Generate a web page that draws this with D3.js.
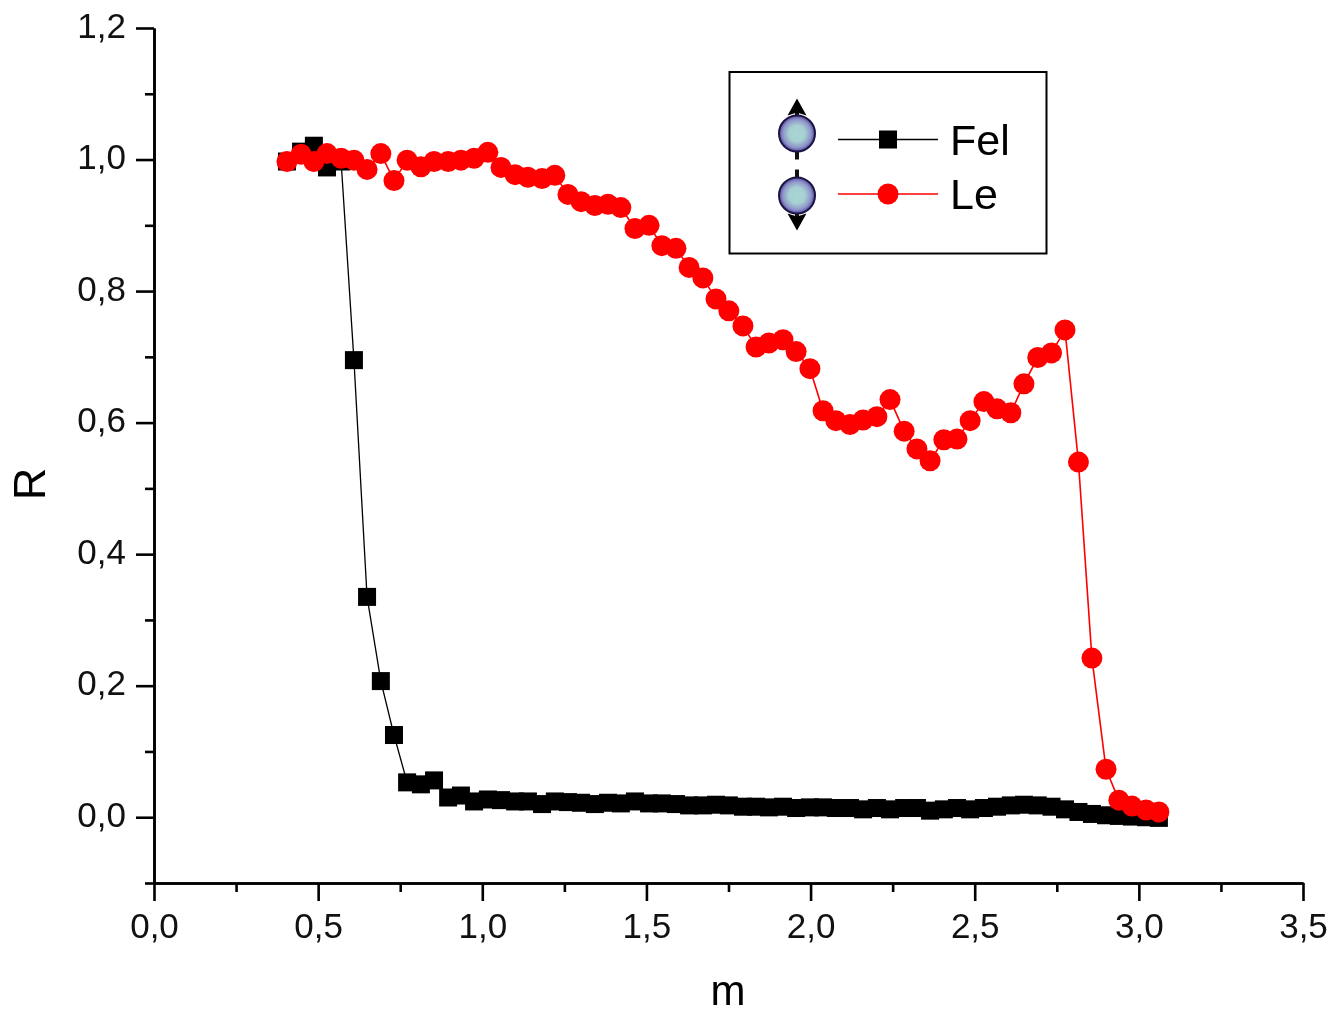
<!DOCTYPE html>
<html>
<head>
<meta charset="utf-8">
<script src="https://cdn.jsdelivr.net/npm/d3@7"></script>
<style>
    html, body { margin: 0; padding: 0; background: #fff; }
    svg { display: block; filter: blur(0.45px); }
    .tick text { font-family: "Liberation Sans", sans-serif; font-size: 35px; fill: #111; }
    .title { font-family: "Liberation Sans", sans-serif; font-size: 42px; fill: #000; }
</style>
</head>
<body>
<script>
// values
var m = [0.405, 0.448, 0.487, 0.527, 0.570, 0.609, 0.649, 0.691, 0.731, 0.771, 0.813,
    0.853, 0.896, 0.935, 0.975, 1.017, 1.057, 1.100, 1.139, 1.182, 1.221, 1.261,
    1.301, 1.343, 1.383, 1.422, 1.465, 1.508, 1.547, 1.590, 1.630, 1.672, 1.712,
    1.751, 1.794, 1.834, 1.873, 1.916, 1.956, 1.998, 2.038, 2.077, 2.120, 2.160,
    2.202, 2.242, 2.285, 2.324, 2.364, 2.406, 2.446, 2.486, 2.528, 2.568, 2.610,
    2.650, 2.692, 2.734, 2.775, 2.816, 2.857, 2.900, 2.939, 2.979, 3.022, 3.061];

var fel = [0.997, 1.012, 1.021, 0.988, 0.997, 0.695, 0.335, 0.207, 0.125, 0.053, 0.050,
    0.056, 0.030, 0.033, 0.024, 0.027, 0.026, 0.024, 0.024, 0.020, 0.024, 0.023,
    0.022, 0.020, 0.022, 0.021, 0.024, 0.021, 0.021, 0.020, 0.018, 0.018, 0.019,
    0.018, 0.016, 0.016, 0.015, 0.016, 0.014, 0.015, 0.015, 0.014, 0.014, 0.012,
    0.014, 0.012, 0.014, 0.014, 0.010, 0.012, 0.014, 0.012, 0.014, 0.016, 0.018,
    0.019, 0.018, 0.016, 0.012, 0.008, 0.005, 0.003, 0.002, 0.001, 0.000, -0.001];

var le = [0.997, 1.008, 0.997, 1.009, 1.002, 0.999, 0.985, 1.009, 0.968, 0.999, 0.989,
    0.997, 0.997, 0.999, 1.002, 1.011, 0.988, 0.977, 0.973, 0.971, 0.976, 0.947,
    0.936, 0.930, 0.932, 0.927, 0.895, 0.900, 0.869, 0.865, 0.836, 0.820, 0.788,
    0.770, 0.747, 0.715, 0.721, 0.726, 0.708, 0.682, 0.618, 0.603, 0.597, 0.604,
    0.609, 0.635, 0.587, 0.560, 0.542, 0.574, 0.575, 0.603, 0.632, 0.621, 0.615,
    0.659, 0.699, 0.706, 0.741, 0.540, 0.242, 0.073, 0.026, 0.017, 0.011, 0.008];

var xMajor = [0, 0.5, 1, 1.5, 2, 2.5, 3, 3.5];
var xMinor = [0.25, 0.75, 1.25, 1.75, 2.25, 2.75, 3.25];
var yMajor = [0, 0.2, 0.4, 0.6, 0.8, 1, 1.2];
var yMinor = [-0.1, 0.1, 0.3, 0.5, 0.7, 0.9, 1.1];

var width = 1333, height = 1014;
var margin = {left: 154, right: 30, top: 28, bottom: 131};
var comma = function (d) { return d.toFixed(1).replace(".", ","); };

var svg = d3.select("body").append("svg")
    .attr("width", width)
    .attr("height", height);

var x = d3.scaleLinear().domain([0, 3.5]).range([margin.left, width - margin.right]);
var y = d3.scaleLinear().domain([-0.1, 1.2]).range([height - margin.bottom, margin.top]);

// axes, minor ticks first and then the labelled ones
var styleAxis = function (sel) {
    sel.selectAll("path, line").style("stroke", "#000").style("stroke-width", 2.6);
};

svg.append("g")
    .attr("transform", "translate(0," + y(-0.1) + ")")
    .call(d3.axisBottom(x).tickValues(xMinor).tickSize(9).tickFormat("").tickSizeOuter(0))
    .call(styleAxis);

svg.append("g")
    .attr("transform", "translate(0," + y(-0.1) + ")")
    .call(d3.axisBottom(x).tickValues(xMajor).tickSize(18).tickPadding(12).tickFormat(comma).tickSizeOuter(0))
    .call(styleAxis);

svg.append("g")
    .attr("transform", "translate(" + x(0) + ",0)")
    .call(d3.axisLeft(y).tickValues(yMinor).tickSize(9).tickFormat("").tickSizeOuter(0))
    .call(styleAxis);

svg.append("g")
    .attr("transform", "translate(" + x(0) + ",0)")
    .call(d3.axisLeft(y).tickValues(yMajor).tickSize(18).tickPadding(10).tickFormat(comma).tickSizeOuter(0))
    .call(styleAxis)
    .selectAll("text").attr("dy", "0.26em");

svg.append("text")
    .attr("class", "title")
    .attr("x", 728).attr("y", 1005)
    .attr("text-anchor", "middle")
    .text("m");

svg.append("text")
    .attr("class", "title")
    .attr("transform", "translate(45,484) rotate(-90)")
    .attr("text-anchor", "middle")
    .style("font-size", "45px")
    .text("R");

// series
var line = function (values) {
    return d3.line()
        .x(function (d, i) { return x(m[i]); })
        .y(function (d) { return y(d); })(values);
};

svg.append("path")
    .attr("d", line(fel))
    .style("fill", "none").style("stroke", "#000").style("stroke-width", 1.3);

svg.append("g").selectAll("rect")
    .data(fel).enter().append("rect")
    .attr("x", function (d, i) { return x(m[i]) - 9; })
    .attr("y", function (d) { return y(d) - 9; })
    .attr("width", 18).attr("height", 18)
    .style("fill", "#000");

svg.append("path")
    .attr("d", line(le))
    .style("fill", "none").style("stroke", "#f00").style("stroke-width", 1.6);

svg.append("g").selectAll("circle")
    .data(le).enter().append("circle")
    .attr("cx", function (d, i) { return x(m[i]); })
    .attr("cy", function (d) { return y(d); })
    .attr("r", 10.5)
    .style("fill", "#f00");

// legend
var defs = svg.append("defs");
var grad = defs.append("radialGradient").attr("id", "ball");
grad.append("stop").attr("offset", "0%").attr("stop-color", "#a8d6d2");
grad.append("stop").attr("offset", "45%").attr("stop-color", "#a6d0d2");
grad.append("stop").attr("offset", "78%").attr("stop-color", "#8f95c8");
grad.append("stop").attr("offset", "100%").attr("stop-color", "#5548a4");

var legend = svg.append("g");

legend.append("rect")
    .attr("x", 729.5).attr("y", 72)
    .attr("width", 317).attr("height", 181.5)
    .style("fill", "#fff").style("stroke", "#000").style("stroke-width", 2);

// spin icon, dir -1 points up and 1 points down
var spin = function (cy, dir) {
    var g = legend.append("g").attr("transform", "translate(797," + cy + ")");
    g.append("line")
        .attr("x1", 0).attr("x2", 0)
        .attr("y1", -26 * dir).attr("y2", 28 * dir)
        .style("stroke", "#111").style("stroke-width", 4);
    g.append("path")
        .attr("d", "M0," + (35 * dir) + "L-9.5," + (18 * dir) + "L0," + (21 * dir) + "L9.5," + (18 * dir) + "Z")
        .style("fill", "#000");
    g.append("circle")
        .attr("r", 18)
        .style("fill", "url(#ball)")
        .style("stroke", "#1c1440").style("stroke-width", 2);
};
spin(133.5, -1);
spin(195.5, 1);

var names = ["Fel", "Le"];
var colors = ["#000", "#f00"];
var rows = [139.5, 194];

names.forEach(function (name, i) {
    legend.append("line")
        .attr("x1", 838).attr("x2", 938)
        .attr("y1", rows[i]).attr("y2", rows[i])
        .style("stroke", colors[i]).style("stroke-width", 1.3);
    if (i === 0) {
        legend.append("rect")
            .attr("x", 879).attr("y", rows[i] - 9)
            .attr("width", 18).attr("height", 18)
            .style("fill", colors[i]);
    } else {
        legend.append("circle")
            .attr("cx", 888).attr("cy", rows[i]).attr("r", 10.5)
            .style("fill", colors[i]);
    }
    legend.append("text")
        .attr("class", "title")
        .attr("x", 950).attr("y", rows[i] + 15)
        .style("font-size", "43px")
        .text(name);
});
</script>
</body>
</html>
